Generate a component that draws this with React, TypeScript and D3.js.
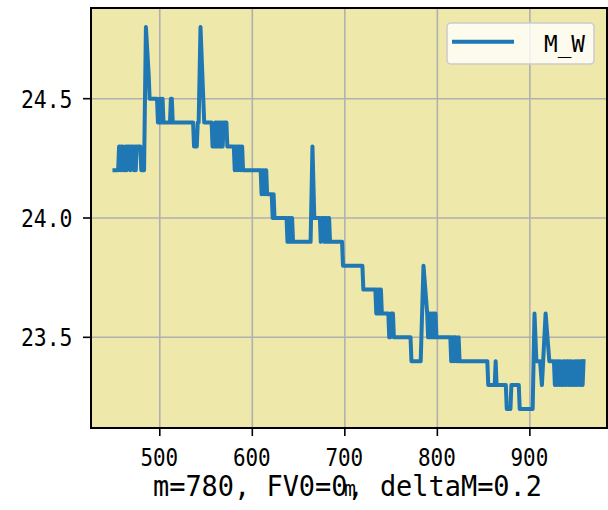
import React from 'react';
import * as d3 from 'd3';

// Runs of the M_W series: [first m, last m, value]
const M_W_RUNS: [number, number, number][] = [
  [451, 455, 24.2], [456, 457, 24.3], [458, 458, 24.2], [459, 460, 24.3], [461, 462, 24.2],
  [463, 463, 24.3], [464, 464, 24.2], [465, 467, 24.3], [468, 468, 24.2], [469, 471, 24.3],
  [472, 472, 24.2], [473, 473, 24.3], [474, 474, 24.2], [475, 479, 24.3], [480, 483, 24.2],
  [485, 485, 24.8], [488, 488, 24.6], [489, 497, 24.5], [498, 499, 24.4], [500, 501, 24.5],
  [502, 502, 24.4], [503, 503, 24.5], [504, 511, 24.4], [512, 513, 24.5], [514, 536, 24.4],
  [537, 540, 24.3], [541, 542, 24.4], [544, 544, 24.8], [547, 547, 24.5], [548, 556, 24.4],
  [557, 559, 24.3], [560, 561, 24.4], [562, 562, 24.3], [563, 564, 24.4], [565, 565, 24.3],
  [566, 567, 24.4], [568, 568, 24.3], [569, 572, 24.4], [573, 580, 24.3], [581, 581, 24.2],
  [582, 583, 24.3], [584, 584, 24.2], [585, 586, 24.3], [587, 587, 24.2], [588, 589, 24.3],
  [590, 609, 24.2], [610, 610, 24.1], [611, 612, 24.2], [613, 613, 24.1], [614, 615, 24.2],
  [616, 621, 24.1], [622, 622, 24.0], [623, 623, 24.1], [624, 637, 24.0], [638, 638, 23.9],
  [639, 640, 24.0], [641, 641, 23.9], [642, 643, 24.0], [644, 663, 23.9], [665, 665, 24.3],
  [667, 673, 24.0], [674, 674, 23.9], [675, 677, 24.0], [678, 678, 23.9], [679, 680, 24.0],
  [681, 681, 23.9], [682, 683, 24.0], [684, 697, 23.9], [698, 719, 23.8], [720, 733, 23.7],
  [734, 734, 23.6], [735, 736, 23.7], [737, 737, 23.6], [738, 739, 23.7], [740, 747, 23.6],
  [748, 749, 23.5], [750, 752, 23.6], [753, 771, 23.5], [772, 782, 23.4], [785, 785, 23.8],
  [789, 789, 23.6], [790, 790, 23.5], [791, 792, 23.6], [793, 793, 23.5], [794, 795, 23.6],
  [796, 796, 23.5], [797, 798, 23.6], [799, 814, 23.5], [815, 815, 23.4], [816, 817, 23.5],
  [818, 818, 23.4], [819, 820, 23.5], [821, 822, 23.4], [823, 823, 23.5], [824, 854, 23.4],
  [855, 862, 23.3], [863, 863, 23.4], [864, 874, 23.3], [875, 879, 23.2], [880, 888, 23.3],
  [889, 903, 23.2], [905, 905, 23.6], [907, 911, 23.4], [913, 913, 23.3], [917, 917, 23.6],
  [921, 926, 23.4], [927, 927, 23.3], [928, 928, 23.4], [929, 929, 23.3], [930, 931, 23.4],
  [932, 932, 23.3], [933, 933, 23.4], [934, 935, 23.3], [936, 936, 23.4], [937, 937, 23.3],
  [938, 938, 23.4], [939, 939, 23.3], [940, 941, 23.4], [942, 942, 23.3], [943, 943, 23.4],
  [944, 944, 23.3], [945, 945, 23.4], [946, 947, 23.3], [948, 948, 23.4], [949, 949, 23.3],
  [950, 950, 23.4], [951, 951, 23.3], [952, 953, 23.4], [954, 954, 23.3], [955, 955, 23.4],
  [956, 957, 23.3], [958, 958, 23.4],
];

const X_TICKS = [500, 600, 700, 800, 900];
const Y_TICKS = [23.5, 24.0, 24.5];
const LEGEND_LABEL = 'M_W';
const TITLE = 'm=780, FV0=0, deltaM=0.2';
const X_LABEL = 'm';

const W = 608;
const H = 510;
const PLOT = { left: 91, right: 607, top: 8, bottom: 428 };
const FONT = "'DejaVu Sans Mono', 'Liberation Mono', monospace";
const LINE_COLOR = '#1f77b4';
const BG = '#eee8aa';
const GRID = '#b0b0b0';

export default function App() {
  const points: [number, number][] = [];
  M_W_RUNS.forEach(([s, e, v]) => {
    points.push([s, v]);
    if (e > s) points.push([e, v]);
  });
  const [xMin, xMax] = d3.extent(points, (d) => d[0]) as [number, number];
  const [yMin, yMax] = d3.extent(points, (d) => d[1]) as [number, number];
  const xPad = (xMax - xMin) * 0.05;
  const yPad = (yMax - yMin) * 0.05;
  const x = d3.scaleLinear().domain([xMin - xPad, xMax + xPad]).range([PLOT.left, PLOT.right]);
  const y = d3.scaleLinear().domain([yMin - yPad, yMax + yPad]).range([PLOT.bottom, PLOT.top]);
  const line = d3
    .line<[number, number]>()
    .x((d) => x(d[0]))
    .y((d) => y(d[1]));
  const fmtY = d3.format('.1f');
  const tickPitch = 12.6;

  return (
    <svg
      width={W}
      height={H}
      viewBox={`0 0 ${W} ${H}`}
      style={{ position: 'absolute', left: 0, top: 0, background: '#ffffff' }}
    >
      <rect x={0} y={0} width={W} height={H} fill="#ffffff" />
      <rect
        x={PLOT.left}
        y={PLOT.top}
        width={PLOT.right - PLOT.left}
        height={PLOT.bottom - PLOT.top}
        fill={BG}
      />
      {/* grid */}
      {X_TICKS.map((t) => (
        <line key={'gx' + t} x1={x(t)} x2={x(t)} y1={PLOT.top} y2={PLOT.bottom} stroke={GRID} strokeWidth={1.6} />
      ))}
      {Y_TICKS.map((t) => (
        <line key={'gy' + t} x1={PLOT.left} x2={PLOT.right} y1={y(t)} y2={y(t)} stroke={GRID} strokeWidth={1.6} />
      ))}
      {/* data line */}
      <path
        d={line(points) || ''}
        fill="none"
        stroke={LINE_COLOR}
        strokeWidth={4}
        strokeLinejoin="round"
        strokeLinecap="square"
      />
      {/* spines */}
      <rect
        x={PLOT.left}
        y={PLOT.top}
        width={PLOT.right - PLOT.left}
        height={PLOT.bottom - PLOT.top}
        fill="none"
        stroke="#000"
        strokeWidth={2}
      />
      {/* x ticks */}
      {X_TICKS.map((t) => {
        const s = String(t);
        const len = s.length * tickPitch;
        return (
          <g key={'xt' + t}>
            <line x1={x(t)} x2={x(t)} y1={PLOT.bottom} y2={PLOT.bottom + 8} stroke="#000" strokeWidth={1.6} />
            <text
              x={x(t) - 0.5 - len / 2}
              y={466}
              fontFamily={FONT}
              fontSize={25}
              textLength={len}
              lengthAdjust="spacingAndGlyphs"
              fill="#000"
            >
              {s}
            </text>
          </g>
        );
      })}
      {/* y ticks */}
      {Y_TICKS.map((t) => {
        const s = fmtY(t);
        const len = s.length * 12.9;
        return (
          <g key={'yt' + t}>
            <line x1={PLOT.left - 8} x2={PLOT.left} y1={y(t)} y2={y(t)} stroke="#000" strokeWidth={1.6} />
            <text
              x={PLOT.left - 18.5 - len}
              y={y(t) + 9}
              fontFamily={FONT}
              fontSize={25}
              textLength={len}
              lengthAdjust="spacingAndGlyphs"
              fill="#000"
            >
              {s}
            </text>
          </g>
        );
      })}
      {/* x label */}
      <text
        x={(PLOT.left + PLOT.right) / 2 + 1 - 6}
        y={496}
        fontFamily={FONT}
        fontSize={21}
        textLength={12}
        lengthAdjust="spacingAndGlyphs"
        fill="#000"
      >
        {X_LABEL}
      </text>
      {/* title at bottom */}
      <text
        x={153}
        y={496}
        fontFamily={FONT}
        fontSize={29}
        textLength={389}
        lengthAdjust="spacingAndGlyphs"
        fill="#000"
      >
        {TITLE}
      </text>
      {/* legend */}
      <g>
        <rect x={447} y={23} width={147} height={41} rx={4} ry={4} fill="#ffffff" fillOpacity={0.8} stroke="#cccccc" strokeWidth={1.6} />
        <line x1={454} x2={512} y1={41.7} y2={41.7} stroke={LINE_COLOR} strokeWidth={4} strokeLinecap="square" />
        <text
          x={544}
          y={51.7}
          fontFamily={FONT}
          fontSize={23}
          textLength={41}
          lengthAdjust="spacingAndGlyphs"
          fill="#000"
        >
          {LEGEND_LABEL}
        </text>
      </g>
    </svg>
  );
}
